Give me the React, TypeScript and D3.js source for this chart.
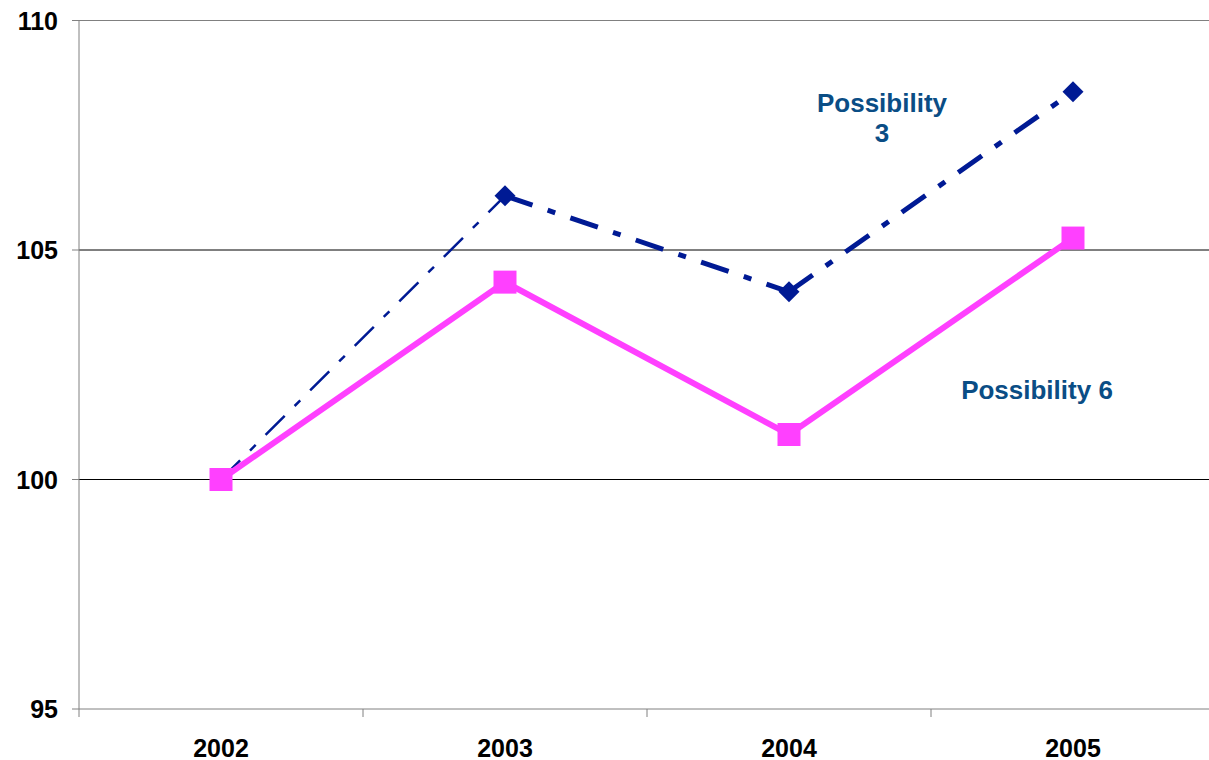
import * as d3 from "d3";
import * as React from "react";

const years = ["2002", "2003", "2004", "2005"];
const possibility3 = [100, 106.18, 104.09, 108.45];
const possibility6 = [100, 104.3, 100.98, 105.26];
const yTicks = [95, 100, 105, 110];

const W = 1209;
const H = 760;
const FONT = "'Liberation Sans', Arial, sans-serif";

export default function App(): JSX.Element {
    const x = d3.scaleBand<string>().domain(years).range([79, 1215]);
    const y = d3.scaleLinear().domain([95, 110]).range([709, 20.5]);
    const cx = (yr: string) => (x(yr) as number) + x.bandwidth() / 2;

    const line = d3.line<number>()
        .x((_, i) => cx(years[i]))
        .y(v => y(v));

    const p3Points = possibility3.map((v, i) => ({ yr: years[i], v }));
    const segLine = d3.line<{ yr: string; v: number }>()
        .x(d => cx(d.yr))
        .y(d => y(d.v));

    const diamond = d3.symbol(d3.symbolSquare, 220)();
    const square = d3.symbol(d3.symbolSquare, 529)();

    const bottom = y(95);

    return (
        <svg width={W} height={H} style={{ position: "absolute", left: 0, top: 0, background: "#fff" }}>
            {/* grid lines */}
            {yTicks.filter(t => t > 95).map(t => (
                <line key={t} x1={79} x2={W} y1={y(t)} y2={y(t)}
                    stroke={t === 110 ? "#808080" : "#000"} strokeWidth={1} />
            ))}
            {/* y axis */}
            <line x1={79} x2={79} y1={y(110)} y2={bottom + 8} stroke="#808080" strokeWidth={1} />
            {yTicks.map(t => (
                <g key={t}>
                    <line x1={72} x2={79} y1={y(t)} y2={y(t)} stroke="#808080" />
                    <text x={58} y={y(t)} dy="0.36em" textAnchor="end"
                        fontFamily={FONT} fontWeight="bold" fontSize={25} fill="#000">{t}</text>
                </g>
            ))}
            {/* x axis */}
            <line x1={79} x2={W} y1={bottom} y2={bottom} stroke="#808080" strokeWidth={1} />
            {years.slice(1).map(yr => (
                <line key={yr} x1={x(yr)} x2={x(yr)} y1={bottom} y2={bottom + 8} stroke="#808080" />
            ))}
            {years.map(yr => (
                <text key={yr} x={cx(yr)} y={757} textAnchor="middle"
                    fontFamily={FONT} fontWeight="bold" fontSize={25} fill="#000">{yr}</text>
            ))}

            {/* Possibility 3: dash-dot, first segment thinner */}
            {p3Points.slice(1).map((d, i) => (
                <path key={d.yr} d={segLine([p3Points[i], d]) as string} fill="none"
                    stroke="#001a94" strokeWidth={i === 0 ? 2.5 : 5}
                    strokeDasharray={i === 0 ? "27,14,8,14" : "29,16,8,16"} />
            ))}
            {possibility3.map((v, i) => (
                <path key={i} d={diamond as string} fill="#001a94"
                    transform={`translate(${cx(years[i])},${y(v)}) rotate(45)`} />
            ))}

            {/* Possibility 6 */}
            <path d={line(possibility6) as string} fill="none" stroke="#ff40ff" strokeWidth={6} />
            {possibility6.map((v, i) => (
                <path key={i} d={square as string} fill="#ff40ff"
                    transform={`translate(${cx(years[i])},${y(v)})`} />
            ))}

            {/* labels */}
            <text x={882} y={112} textAnchor="middle" fontFamily={FONT} fontWeight="bold"
                fontSize={26} fill="#0a4d85">Possibility</text>
            <text x={882} y={142} textAnchor="middle" fontFamily={FONT} fontWeight="bold"
                fontSize={26} fill="#0a4d85">3</text>
            <text x={1037} y={399} textAnchor="middle" fontFamily={FONT} fontWeight="bold"
                fontSize={26} fill="#0a4d85">Possibility 6</text>
        </svg>
    );
}
